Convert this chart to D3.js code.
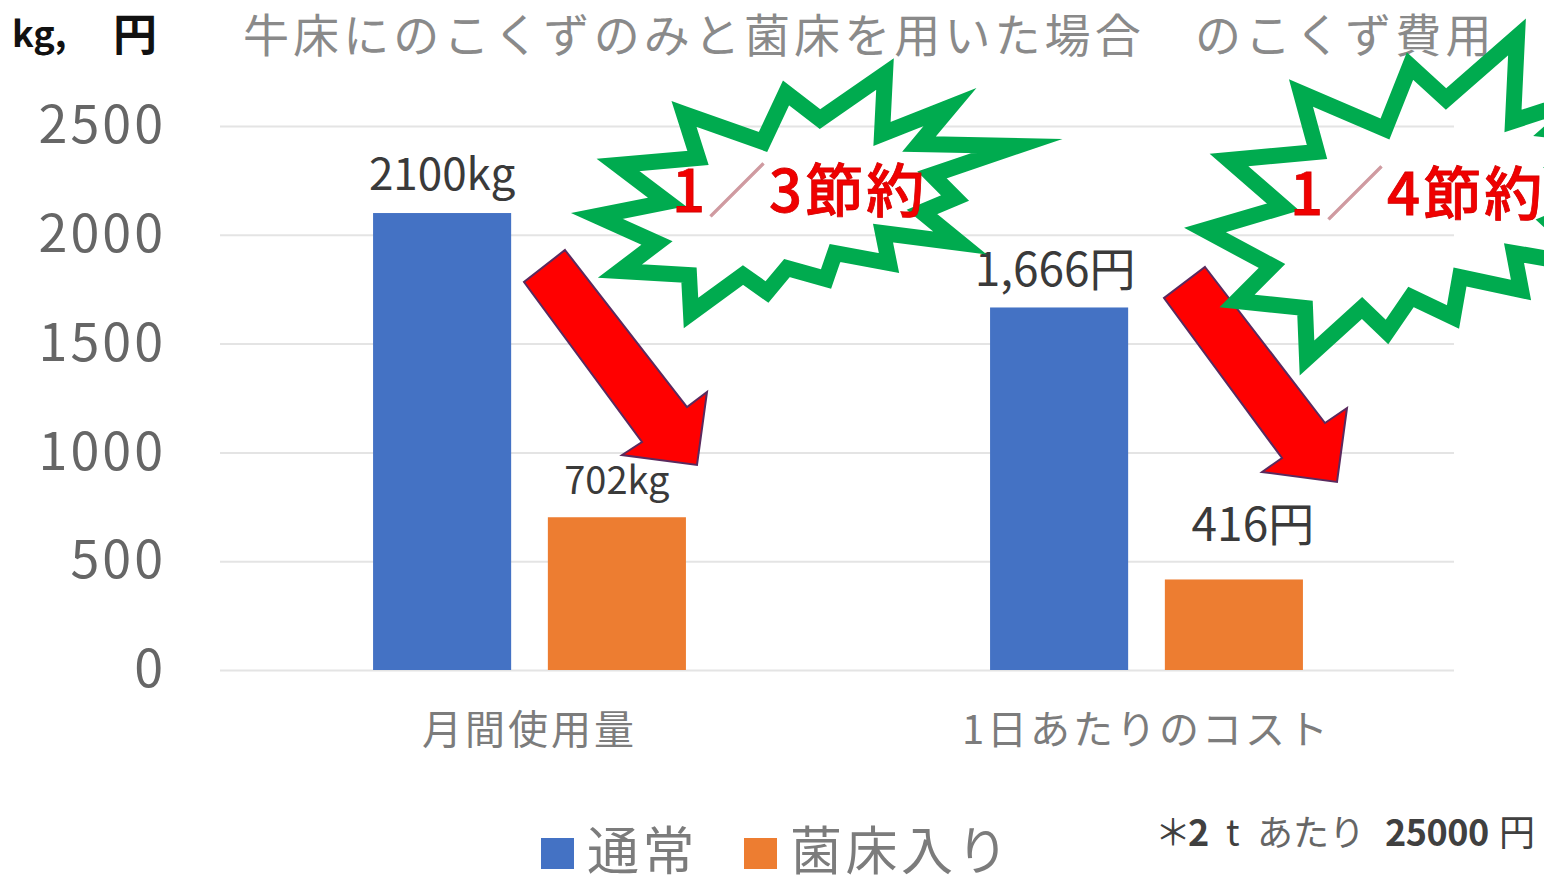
<!DOCTYPE html>
<html lang="ja">
<head>
    <meta charset="UTF-8">
    <script type="text/javascript" src="https://d3js.org/d3.v7.min.js"></script>
    <title>のこくず費用</title>
    <style>
        html, body { margin: 0; padding: 0; background: #fff; overflow: hidden; }
        text { font-family: "Noto Sans CJK JP", "Noto Sans", sans-serif; }
    </style>
</head>
<body>
    <svg id="plot"></svg>
    <script>
        // chart values
        const categories = ["月間使用量", "1日あたりのコスト"];
        const seriesNames = ["通常", "菌床入り"];
        const seriesColors = ["#4472c4", "#ed7d31"];
        const normalValues = [2100, 1666];
        const bedValues = [702, 416];
        const normalLabels = ["2100kg", "1,666円"];
        const bedLabels = ["702kg", "416円"];
        const yTicks = [0, 500, 1000, 1500, 2000, 2500];

        const width = 1544;
        const height = 875;
        const margin = {top: 126, bottom: 205, left: 220, right: 90};

        // callout shapes, drawn on the picture by hand (page pixels)
        const star1 = [[684,114],[763,142],[786,93],[820,119],[885,74],[882,134],[950,107],[919,144],[1017,146],[932,175],[955,198],[922,212],[960,243],[883,233],[889,263],[835,253],[826,279],[787,268],[767,292],[743,275],[691,313],[689,275],[620,271],[657,243],[597,216],[667,202],[618,165],[698,158]];
        const star2 = [[1301,93],[1385,129],[1410,66],[1446,99],[1517,37],[1513,121],[1590,96],[1552,130],[1650,140],[1560,170],[1600,200],[1550,222],[1600,268],[1514,253],[1521,290],[1460,277],[1453,317],[1411,297],[1387,332],[1362,308],[1307,358],[1305,308],[1237,301],[1272,266],[1205,230],[1283,207],[1229,160],[1317,152]];
        const arrow1 = [[565,250],[687,407],[707,392],[697,465],[622,455],[642,442],[524,282]];
        const arrow2 = [[1205,267],[1325,423],[1347,408],[1337,482],[1262,472],[1282,458],[1164,298]];

        const svg = d3.select("#plot").attr("width", width).attr("height", height)
            .style("display", "block");

        const rows = categories.map((c, i) => ({
            cat: c,
            values: [normalValues[i], bedValues[i]],
            labels: [normalLabels[i], bedLabels[i]]
        }));

        const x = d3.scaleBand().domain(categories)
            .range([margin.left + 1, width - margin.right + 1]);
        const xInner = d3.scaleBand().domain([0, 1])
            .range([0, x.bandwidth()])
            .paddingInner(0.21).paddingOuter(0.87);
        const y = d3.scaleLinear().domain([0, 2500])
            .range([height - margin.bottom, margin.top]);

        // gridlines + y labels
        const yAxis = d3.axisLeft(y).tickValues(yTicks).tickFormat(d3.format("d"))
            .tickSize(-(width - margin.left - margin.right)).tickPadding(54);
        svg.append("g").attr("transform", `translate(${margin.left},0)`).call(yAxis)
            .call(g => g.select(".domain").remove())
            .call(g => g.selectAll("line").attr("stroke", "#e4e4e4").attr("stroke-width", 2))
            .call(g => g.selectAll("text").attr("fill", "#666").attr("font-size", 52)
                .attr("letter-spacing", 3)
                .attr("font-family", "'Noto Sans', sans-serif"));

        // bars
        const groups = svg.selectAll(".grp").data(rows).join("g").attr("class", "grp")
            .attr("transform", d => `translate(${x(d.cat)},0)`);
        groups.selectAll("rect").data(d => d.values).join("rect")
            .attr("x", (d, i) => xInner(i))
            .attr("width", xInner.bandwidth())
            .attr("y", d => y(d))
            .attr("height", d => y(0) - y(d))
            .attr("fill", (d, i) => seriesColors[i]);

        // value labels; a few were moved by hand in the original
        const labelNudge = {"1,666円": [-4, 2], "416円": [19, -15]};
        const labelSize = {"2100kg": 44, "702kg": 38, "1,666円": 46, "416円": 46};
        groups.selectAll(".lab").data(d => d.labels).join("text").attr("class", "lab")
            .attr("x", (d, i) => xInner(i) + xInner.bandwidth() / 2 + (labelNudge[d] ? labelNudge[d][0] : 0))
            .attr("y", function(d, i) {
                const v = d3.select(this.parentNode).datum().values[i];
                return y(v) - 23 + (labelNudge[d] ? labelNudge[d][1] : 0);
            })
            .attr("text-anchor", "middle")
            .attr("font-family", "'Noto Sans', 'Noto Sans CJK JP', sans-serif")
            .attr("font-size", d => labelSize[d])
            .attr("fill", "#3a3a3a")
            .text(d => d);

        // category labels
        svg.append("g").attr("transform", `translate(0,${y(0)})`)
            .call(d3.axisBottom(x).tickSize(0).tickPadding(46))
            .call(g => g.select(".domain").remove())
            .call(g => g.selectAll("text").attr("fill", "#7c7c7c").attr("font-size", 40)
                .attr("letter-spacing", 3)
                .attr("font-family", "'Noto Sans CJK JP', sans-serif"));

        // title and unit
        svg.append("text").attr("x", 243).attr("y", 52)
            .attr("font-size", 46).attr("letter-spacing", 4.1).attr("fill", "#8a8a8a")
            .text("牛床にのこくずのみと菌床を用いた場合　のこくず費用");
        svg.append("text").attr("x", 12).attr("y", 47).attr("font-weight", "bold")
            .attr("font-family", "'Noto Sans', sans-serif")
            .attr("font-size", 36).attr("fill", "#111").text("kg,");
        svg.append("text").attr("x", 113).attr("y", 51).attr("font-weight", "bold")
            .attr("font-size", 44).attr("fill", "#111").text("円");

        // arrows, then the stars over them
        svg.selectAll(".arrow").data([arrow1, arrow2]).join("polygon").attr("class", "arrow")
            .attr("points", d => d.join(" "))
            .attr("fill", "#ff0000").attr("stroke", "#5a2a5e").attr("stroke-width", 2);
        svg.selectAll(".star").data([star1, star2]).join("polygon").attr("class", "star")
            .attr("points", d => d.join(" "))
            .attr("fill", "none").attr("stroke", "#00ab4f").attr("stroke-width", 16)
            .attr("stroke-miterlimit", 20);

        // callout text
        const callouts = [
            {x: 672, y: 212, text: ["1", "／", "3節約"]},
            {x: 1290, y: 215, text: ["1", "／", "4節約"]}
        ];
        callouts.forEach(c => {
            const t = svg.append("text").attr("x", c.x).attr("y", c.y)
                .attr("font-size", 58).attr("font-weight", 500).attr("letter-spacing", 3);
            t.selectAll("tspan").data(c.text).join("tspan")
                .attr("fill", (d, i) => i === 1 ? "#cf9aa0" : "#f00000")
                .attr("stroke", (d, i) => i === 1 ? "#cf9aa0" : "#d40000")
                .attr("stroke-width", 0.8)
                .text(d => d);
        });

        // legend
        const legendX = [541, 744];
        const legend = svg.selectAll(".leg").data(seriesNames).join("g").attr("class", "leg")
            .attr("transform", (d, i) => `translate(${legendX[i]},838)`);
        legend.append("rect").attr("width", 33).attr("height", 31)
            .attr("fill", (d, i) => seriesColors[i]);
        legend.append("text").attr("x", 46).attr("y", 32)
            .attr("font-size", 52).attr("letter-spacing", 3.5).attr("fill", "#7c7c7c")
            .text(d => d);

        // footnote
        const note = svg.append("text").attr("y", 846).attr("font-size", 36).attr("fill", "#404040");
        note.append("tspan").attr("x", 1155).text("＊");
        note.append("tspan").attr("x", 1188).attr("font-weight", "bold").text("2");
        note.append("tspan").attr("x", 1226).text("t");
        note.append("tspan").attr("x", 1257).attr("fill", "#666").text("あたり");
        note.append("tspan").attr("x", 1385).attr("font-weight", "bold").attr("letter-spacing", -0.5).text("25000");
        note.append("tspan").attr("x", 1499).text("円");
    </script>
</body>
</html>
